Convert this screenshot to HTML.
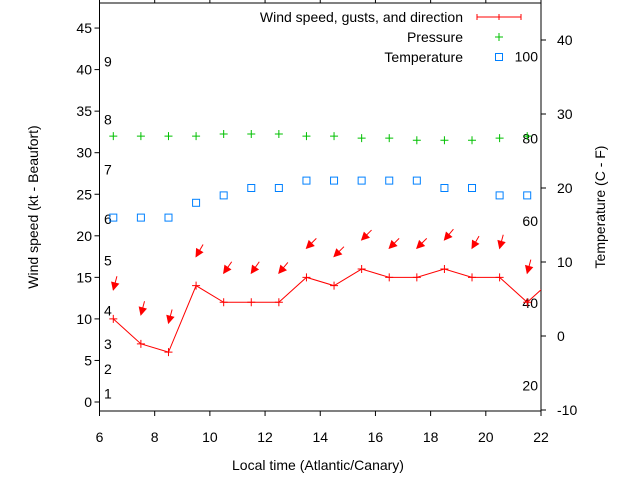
<!DOCTYPE html>
<html><head><meta charset="utf-8"><style>
html,body{margin:0;padding:0;background:#fff;}
svg{display:block;font-family:"Liberation Sans",sans-serif;}
</style></head><body>
<svg id="chart" width="640" height="480" viewBox="0 0 640 480" xmlns="http://www.w3.org/2000/svg"></svg>
<script>
const times = [6.5,7.5,8.5,9.5,10.5,11.5,12.5,13.5,14.5,15.5,16.5,17.5,18.5,19.5,20.5,21.5,22.5];
const windSpeed = [10,7,6,14,12,12,12,15,14,16,15,15,16,15,15,12,15];
const gusts = [13.5,10.5,9.5,17.5,15.5,15.5,15.5,18.5,17.5,19.5,18.5,18.5,19.5,18.5,18.5,15.5];
const windDir = [15,15,15,30,35,35,40,45,45,45,45,45,40,30,15,15];
const pressure = [32,32,32,32,32.25,32.25,32.25,32,32,31.75,31.75,31.5,31.5,31.5,31.75,32];
const temperature = [16,16,16,18,19,20,20,21,21,21,21,21,20,20,19,19];
const xTicks = [6,8,10,12,14,16,18,20,22];
const yTicks = [0,5,10,15,20,25,30,35,40,45];
const y2Ticks = [-10,0,10,20,30,40];
const beaufortKt = [1,4,7,11,17,22,28,34,41];
const beaufortLabels = ["1","2","3","4","5","6","7","8","9"];
const fahrenheit = [20,40,60,80,100];

const L=99.5,R=541,T=3,B=411;
const xS=v=>L+(v-6)/16*(R-L);
const yS=v=>402-v*8.31;
const y2S=v=>336-v*7.4;
const svg=document.getElementById('chart');
const NS='http://www.w3.org/2000/svg';
function mk(tag,attrs,parent){const e=document.createElementNS(NS,tag);for(const k in attrs)e.setAttribute(k,attrs[k]);(parent||svg).appendChild(e);return e;}
function txt(x,y,s,anchor,extra){const e=mk('text',Object.assign({x:x,y:y,'font-size':14,'text-anchor':anchor||'middle',fill:'#000'},extra||{}));e.textContent=s;return e;}

const defs=mk('defs',{});const cp=mk('clipPath',{id:'clip'},defs);mk('rect',{x:L,y:T,width:R-L,height:B-T},cp);

const frame=mk('rect',{x:L,y:T,width:R-L,height:B-T,fill:'none',stroke:'#000','stroke-width':1});


xTicks.forEach(v=>{
  const x=xS(v);
  mk('line',{x1:x,y1:B,x2:x,y2:B+5,stroke:'#000'});
  mk('line',{x1:x,y1:T,x2:x,y2:T-4,stroke:'#000'});
  const t=txt(x,442,String(v));
  
  
});
yTicks.forEach(v=>{
  const y=yS(v);
  mk('line',{x1:L-5,y1:y,x2:L,y2:y,stroke:'#000'});
  const t=txt(92,y+5,String(v),'end');
  
  
});
y2Ticks.forEach(v=>{
  const y=y2S(v);
  mk('line',{x1:R,y1:y,x2:R+5,y2:y,stroke:'#000'});
  const t=txt(557,y+5,String(v),'start');
  
  
});
beaufortKt.forEach((v,i)=>{
  const t=txt(104,yS(v)+5,beaufortLabels[i],'start');
  
  
});
fahrenheit.forEach(f=>{
  const c=(f-32)*5/9;
  const t=txt(538,y2S(c)+5,String(f),'end');
  
  
});

let t=txt(318,470,'Local time (Atlantic/Canary)');

t=txt(0,0,'Wind speed (kt - Beaufort)','middle',{transform:'translate(38,207) rotate(-90)'});

t=txt(0,0,'Temperature (C - F)','middle',{transform:'translate(605,207) rotate(-90)'});


const g=mk('g',{'clip-path':'url(#clip)'});
pressure.forEach((v,i)=>{
  const x=xS(times[i]),y=yS(v);
  const p=mk('path',{d:`M${x-4},${y}H${x+4}M${x},${y-4}V${y+4}`,stroke:'#00c000','stroke-width':1},g);
  
});
temperature.forEach((v,i)=>{
  const x=xS(times[i]),y=y2S(v);
  const r=mk('rect',{x:x-3.5,y:y-3.5,width:7,height:7,fill:'none',stroke:'#0080ff','stroke-width':1},g);
  
});
const pts=windSpeed.map((v,i)=>xS(times[i])+','+yS(v)).join(' ');
const wl=mk('polyline',{points:pts,fill:'none',stroke:'#f00','stroke-width':1},g);

windSpeed.forEach((v,i)=>{
  const x=xS(times[i]),y=yS(v);
  const p=mk('path',{d:`M${x-4},${y}H${x+4}M${x},${y-4}V${y+4}`,stroke:'#f00'},g);
  
});
gusts.forEach((v,i)=>{
  const x=xS(times[i]),y=yS(v);
  const a=windDir[i]*Math.PI/180, len=14;
  const tx=x+Math.sin(a)*len, ty=y-Math.cos(a)*len;
  const ux=Math.sin(a),uy=-Math.cos(a);
  const h=7,w=3.5;
  const bx=x+ux*h,by=y+uy*h;
  const ar=mk('g',{},g);
  
  mk('line',{x1:tx,y1:ty,x2:x,y2:y,stroke:'#f00'},ar);
  mk('polygon',{points:`${x},${y} ${bx-uy*w},${by+ux*w} ${bx+uy*w},${by-ux*w}`,fill:'#f00',stroke:'#f00'},ar);
});

const lg=mk('g',{});

t=txt(463,22,'Wind speed, gusts, and direction','end');
mk('path',{d:'M477,17H521M477,14V20M521,14V20M499,14V20',stroke:'#f00'},lg);
t=txt(463,42,'Pressure','end');
mk('path',{d:'M495,37H503M499,33V41',stroke:'#00c000'},lg);
t=txt(463,62,'Temperature','end');
mk('rect',{x:495.5,y:53.5,width:7,height:7,fill:'none',stroke:'#0080ff'},lg);
</script>
</body></html>
